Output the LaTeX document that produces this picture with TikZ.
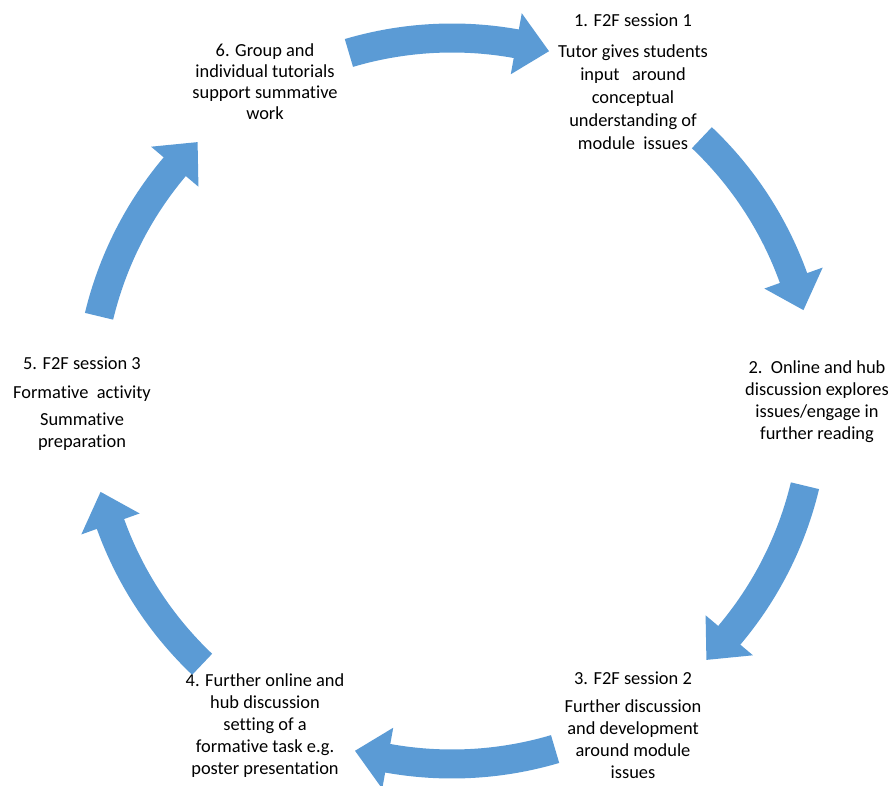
\documentclass[tikz,border=0pt]{standalone}
\usepackage{fontspec}
\setmainfont{Carlito}[Ligatures=NoCommon]
\usepackage{xcolor}
\usetikzlibrary{positioning}
\definecolor{cycleblue}{RGB}{91,155,213}
\tikzset{
  x=1pt, y=1pt,
  step text/.style={align=center, inner sep=0pt, anchor=north,
    font=\fontsize{18.4}{22}\selectfont},
  block arrow/.style={fill=cycleblue, draw=none}
}

\begin{document}
\begin{tikzpicture}
    \useasboundingbox (0,0) rectangle (893,785);
    \coordinate (ctr) at (452,384);

    \node[step text, font=\fontsize{18.4}{23}\selectfont] (s1) at (633,771.5) {1. F2F session 1\\[8pt]Tutor gives students\\input\ \ \ around\\conceptual\\understanding of\\module\ \ issues};
    \node[step text] (s2) at (817,424) {2.\ \ Online and hub\\discussion explores\\issues/engage in\\further reading};
    \node[step text] (s3) at (633,113) {3. F2F session 2\\[6pt]Further discussion\\and development\\around module\\issues};
    \node[step text] (s4) at (265,111) {4. Further online and\\hub discussion\\setting of a\\formative task e.g.\\poster presentation};
    \node[step text] (s5) at (82,428) {5. F2F session 3\\[7pt]Formative\ \ activity\\[5pt]Summative\\preparation};
    \node[step text, font=\fontsize{18.4}{20.8}\selectfont] (s6) at (265,741) {6. Group and\\individual tutorials\\support summative\\work};

    % arrows round the cycle
    \foreach \a in {90,30,-30,-90,-150,150} {
      \pgfmathsetmacro\t{\a+16.5}
      \pgfmathsetmacro\e{\a-15.5}
      \pgfmathsetmacro\b{\a-10.2}
      \fill[block arrow, shift={(ctr)}]
        (\t:377.5) arc[start angle=\t, end angle=\b, radius=377.5]
        -- (\b:394) -- (\e:363) -- (\b:332) -- (\b:348.5)
        arc[start angle=\b, end angle=\t, radius=348.5] -- cycle;
    }
  \end{tikzpicture}
\end{document}
